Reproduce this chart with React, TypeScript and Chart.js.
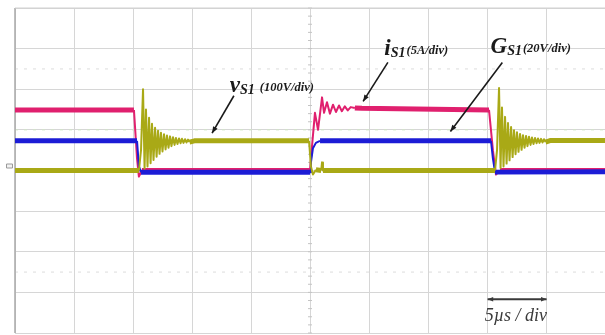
import React, { useEffect, useRef } from "react";
import { Chart, registerables } from "chart.js";

Chart.register(...registerables);

// Time axis in µs (5 µs/div, 10 divisions); vertical axis in scope divisions (-4..4)
const xTicks = { min: 0, max: 50, step: 5 };
const yTicks = { min: -4, max: 4, step: 1 };

// vS1 (olive) — drain-source voltage, 100 V/div
const vS1T = [0, 10.5, 10.68,
  10.85, 10.98, 11.10, 11.23, 11.36, 11.49, 11.61, 11.74, 11.87, 12.0, 12.12, 12.25, 12.37, 12.5, 12.63, 12.76,
  12.88, 13.01, 13.14, 13.26, 13.39, 13.52, 13.64, 13.77, 13.9, 14.03, 14.15, 14.28, 14.41, 14.53, 14.66, 14.79,
  15.2, 24.92, 25.08, 25.25, 25.5, 25.95, 26.02, 26.1, 40.68, 40.85,
  41.02, 41.15, 41.27, 41.40, 41.53, 41.66, 41.78, 41.91, 42.04, 42.17, 42.29, 42.42, 42.54, 42.67, 42.8, 42.93,
  43.05, 43.18, 43.31, 43.43, 43.56, 43.69, 43.81, 43.94, 44.07, 44.2, 44.32, 44.45, 44.58, 44.7, 44.83, 44.96,
  45.4, 50];
const vS1V = [0, 0, 0.5,
  2.0, 0.05, 1.5, 0.1, 1.3, 0.18, 1.15, 0.26, 1.05, 0.34, 0.98, 0.41, 0.93, 0.47, 0.89, 0.52,
  0.86, 0.56, 0.84, 0.6, 0.82, 0.63, 0.8, 0.65, 0.79, 0.67, 0.78, 0.68, 0.77, 0.69, 0.76, 0.7,
  0.73, 0.73, 0.1, -0.1, 0.02, 0, 0.2, 0, 0, 0.5,
  2.03, 0.06, 1.55, 0.1, 1.32, 0.17, 1.17, 0.25, 1.07, 0.33, 0.99, 0.4, 0.94, 0.46, 0.9, 0.51,
  0.87, 0.56, 0.85, 0.6, 0.83, 0.63, 0.81, 0.65, 0.8, 0.67, 0.79, 0.68, 0.78, 0.69, 0.77, 0.7,
  0.74, 0.74];

// GS1 (blue) — gate signal, 20 V/div
const gS1T = [0, 10.34, 10.5, 10.68, 25.0, 25.08, 25.25, 25.5, 25.85, 40.34, 40.5, 40.68, 50];
const gS1V = [0.73, 0.73, 0.1, -0.04, -0.04, 0.2, 0.55, 0.68, 0.73, 0.73, 0.3, -0.04, -0.03];

// iS1 (pink) — switch current, 5 A/div
const iS1T = [0, 10.08, 10.34, 10.5, 10.76, 25.0, 25.17, 25.42, 25.68, 26.02, 26.19, 26.44, 26.69, 26.95, 27.2, 27.46, 27.7, 27.95, 28.2, 28.45, 28.8, 29.4, 40.17, 40.5, 40.76, 41.1, 50];
const iS1V = [1.49, 1.49, 0.3, -0.15, 0, 0, 0.6, 1.42, 1.0, 1.8, 1.42, 1.68, 1.4, 1.62, 1.44, 1.6, 1.46, 1.58, 1.48, 1.56, 1.54, 1.53, 1.49, 0.5, -0.1, 0, 0];

const pts = (t: number[], v: number[]) => t.map((x, i) => ({ x, y: v[i] }));

const FONT = '"Liberation Serif", "Times New Roman", serif';

function drawArrow(ctx: CanvasRenderingContext2D, x0: number, y0: number, x1: number, y1: number, both = false, color = "#1a1a1a", lw = 1.6, head = 7) {
  ctx.save();
  ctx.strokeStyle = color;
  ctx.fillStyle = color;
  ctx.lineWidth = lw;
  ctx.beginPath();
  ctx.moveTo(x0, y0);
  ctx.lineTo(x1, y1);
  ctx.stroke();
  const headAt = (ax: number, ay: number, bx: number, by: number) => {
    const a = Math.atan2(by - ay, bx - ax);
    ctx.beginPath();
    ctx.moveTo(bx, by);
    ctx.lineTo(bx - head * Math.cos(a - 0.38), by - head * Math.sin(a - 0.38));
    ctx.lineTo(bx - head * Math.cos(a + 0.38), by - head * Math.sin(a + 0.38));
    ctx.closePath();
    ctx.fill();
  };
  headAt(x0, y0, x1, y1);
  if (both) headAt(x1, y1, x0, y0);
  ctx.restore();
}

function drawLabel(ctx: CanvasRenderingContext2D, x: number, y: number, main: string, sub: string, unit: string, gap: number) {
  ctx.save();
  ctx.fillStyle = "#1a1a1a";
  ctx.textBaseline = "alphabetic";
  ctx.font = `italic bold 23px ${FONT}`;
  ctx.fillText(main, x, y);
  let cx = x + ctx.measureText(main).width;
  ctx.font = `italic bold 14px ${FONT}`;
  ctx.fillText(sub, cx, y + 2);
  cx += ctx.measureText(sub).width + gap;
  ctx.font = `italic bold 12.5px ${FONT}`;
  ctx.fillText(unit, cx, y - 1);
  ctx.restore();
}

const scopePlugin = {
  id: "scopeDecor",
  beforeDatasetsDraw(chart: any) {
    const { ctx, chartArea, scales } = chart;
    const xs = scales.x, ys = scales.y;
    ctx.save();
    ctx.strokeStyle = "#dcdcdc";
    ctx.lineWidth = 1;
    ctx.setLineDash([3, 6]);
    [2.5, -2.5].forEach((v) => {
      const y = ys.getPixelForValue(v);
      ctx.beginPath();
      ctx.moveTo(chartArea.left, y);
      ctx.lineTo(chartArea.right, y);
      ctx.stroke();
    });
    ctx.strokeStyle = "#cfe6c4";
    const yt = ys.getPixelForValue(1);
    ctx.beginPath();
    ctx.moveTo(chartArea.left, yt);
    ctx.lineTo(chartArea.right, yt);
    ctx.stroke();
    ctx.setLineDash([]);
    const cx = xs.getPixelForValue(25);
    ctx.strokeStyle = "#c4c4c4";
    for (let v = -4; v <= 4.001; v += 0.2) {
      const y = ys.getPixelForValue(v);
      ctx.beginPath();
      ctx.moveTo(cx - 2, y);
      ctx.lineTo(cx + 2, y);
      ctx.stroke();
    }
    ctx.strokeStyle = "#a8a8a8";
    ctx.lineWidth = 1.5;
    ctx.beginPath();
    ctx.moveTo(chartArea.left, chartArea.top);
    ctx.lineTo(chartArea.left, chartArea.bottom);
    ctx.stroke();
    ctx.strokeStyle = "#d0d0d0";
    ctx.lineWidth = 1;
    ctx.beginPath();
    ctx.moveTo(chartArea.left, chartArea.top);
    ctx.lineTo(chartArea.right, chartArea.top);
    ctx.stroke();
    const gy = ys.getPixelForValue(0);
    ctx.strokeStyle = "#9a9a9a";
    ctx.fillStyle = "#f2f2f2";
    ctx.lineWidth = 1;
    ctx.beginPath();
    ctx.rect(chartArea.left - 8.5, gy - 6.5, 6, 4);
    ctx.fill();
    ctx.stroke();
    ctx.restore();
  },
  afterDatasetsDraw(chart: any) {
    const { ctx, scales } = chart;
    const X = (t: number) => scales.x.getPixelForValue(t);
    const Y = (v: number) => scales.y.getPixelForValue(v);
    drawLabel(ctx, X(18.2), Y(1.93), "v", "S1", "(100V/div)", 5);
    drawArrow(ctx, X(18.55), Y(1.84), X(16.7), Y(0.92));
    drawLabel(ctx, X(31.3), Y(2.84), "i", "S1", "(5A/div)", 1);
    drawArrow(ctx, X(31.6), Y(2.66), X(29.5), Y(1.7));
    drawLabel(ctx, X(40.3), Y(2.89), "G", "S1", "(20V/div)", 1);
    drawArrow(ctx, X(41.3), Y(2.66), X(36.9), Y(0.96));
    drawArrow(ctx, X(40.05), Y(-3.17), X(45.05), Y(-3.17), true, "#3a3a3a", 2, 6);
    ctx.save();
    ctx.fillStyle = "#3a3a3a";
    ctx.font = `italic 18px ${FONT}`;
    ctx.fillText("5\u00b5s / div", X(39.8), Y(-3.71));
    ctx.restore();
  },
};

export default function App() {
  const ref = useRef<HTMLCanvasElement>(null);
  useEffect(() => {
    if (!ref.current) return;
    const seg = (ctx: any) => (ctx.p1.parsed.x - ctx.p0.parsed.x < 0.4 ? 2 : 5);
    const chart = new Chart(ref.current, {
      type: "line",
      data: {
        datasets: [
          { label: "vS1", data: pts(vS1T, vS1V), borderColor: "#a9a916", borderWidth: 5, segment: { borderWidth: seg } },
          { label: "GS1", data: pts(gS1T, gS1V), borderColor: "#1c1cd6", borderWidth: 5, segment: { borderWidth: seg } },
          { label: "iS1", data: pts(iS1T, iS1V), borderColor: "#e0206e", borderWidth: 5, segment: { borderWidth: seg } },
        ],
      },
      options: {
        responsive: false,
        animation: false,
        devicePixelRatio: 1,
        layout: { padding: { left: 15, top: 8, right: 0, bottom: 2 } },
        elements: { point: { radius: 0 }, line: { tension: 0, borderJoinStyle: "round" } },
        plugins: { legend: { display: false }, tooltip: { enabled: false }, title: { display: false } },
        scales: {
          x: {
            type: "linear",
            min: xTicks.min,
            max: xTicks.max,
            ticks: { display: false, stepSize: xTicks.step },
            grid: { color: "#d6d6d6", lineWidth: 1, drawTicks: false },
            border: { display: false },
          },
          y: {
            type: "linear",
            min: yTicks.min,
            max: yTicks.max,
            ticks: { display: false, stepSize: yTicks.step },
            grid: { color: "#d6d6d6", lineWidth: 1, drawTicks: false },
            border: { display: false },
          },
        },
      },
      plugins: [scopePlugin],
    } as any);
    return () => chart.destroy();
  }, []);
  return (
    <>
      <style>{"body{margin:0;background:#fff}"}</style>
      <canvas ref={ref} width={605} height={335} style={{ display: "block" }} />
    </>
  );
}
